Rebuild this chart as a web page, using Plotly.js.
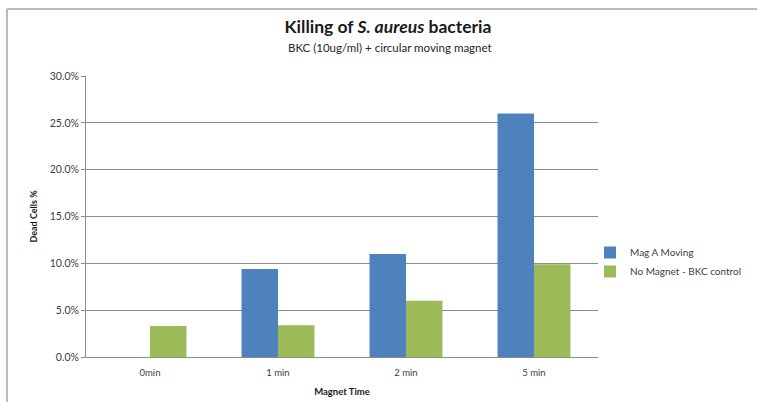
<!DOCTYPE html>
<html>
<head>
<meta charset="utf-8">
<script src="https://cdn.plot.ly/plotly-3.0.1.min.js"></script>
<style>html,body{margin:0;padding:0;background:#fff;}#chart{width:757px;height:402px;}</style>
</head>
<body>
<div id="chart"></div>
<script>
const categories = ["0min", "1 min", "2 min", "5 min"];
const magAMoving = [0, 0.094, 0.110, 0.260];
const noMagnetControl = [0.033, 0.034, 0.060, 0.099];
const seriesNames = ["Mag A Moving", "No Magnet - BKC control"];
const yTickValues = [0, 0.05, 0.10, 0.15, 0.20, 0.25, 0.30];

const FONT = "Lato, 'Open Sans', sans-serif";

const traces = [
  {type: "bar", name: seriesNames[0], x: categories, y: magAMoving,
   marker: {color: "#4F81BD"}, hoverinfo: "none"},
  {type: "bar", name: seriesNames[1], x: categories, y: noMagnetControl,
   marker: {color: "#9BBB59"}, hoverinfo: "none"}
];

const L = 86, R = 598, T = 76, B = 357;
const W = R - L, H = B - T;
const px = v => (v - L) / W;
const py = v => (B - v) / H;

const layout = {
  width: 757, height: 402,
  margin: {l: L, r: 757 - R, t: T, b: 402 - B, pad: 0, autoexpand: false},
  paper_bgcolor: "#fff", plot_bgcolor: "#fff",
  font: {family: FONT, color: "#404040"},
  barmode: "group", bargap: 0.43, bargroupgap: 0,
  showlegend: true,
  title: {text: "<b>Killing of <i>S. aureus</i> bacteria</b>", font: {size: 17.5, color: "#1a1a1a", family: FONT},
          x: 388 / 757, xanchor: "center", y: 1 - 27 / 402, yanchor: "middle", xref: "container", yref: "container"},
  annotations: [
    {text: "BKC (10ug/ml) + circular moving magnet", xref: "paper", yref: "paper",
     x: px(390), y: py(47), xanchor: "center", yanchor: "middle", showarrow: false,
     font: {size: 11.5, color: "#262626", family: FONT}}
  ],
  xaxis: {
    type: "category", showgrid: false, showline: true, linecolor: "#8c8c8c", linewidth: 1,
    ticks: "", tickfont: {size: 9.5, color: "#404040"}, ticklabelstandoff: 7,
    title: {text: "<b>Magnet Time</b>", font: {size: 9.5, color: "#1a1a1a"}, standoff: 10},
    fixedrange: true
  },
  yaxis: {
    range: [0, 0.30], tickvals: yTickValues, tickformat: ".1%",
    showgrid: true, gridcolor: "#8c8c8c", gridwidth: 1,
    showline: true, linecolor: "#8c8c8c", linewidth: 1,
    ticks: "outside", ticklen: 4, tickcolor: "#8c8c8c",
    tickfont: {size: 10.5, color: "#404040"}, zeroline: false,
    title: {text: "<b>Dead Cells %</b>", font: {size: 9, color: "#1a1a1a"}, standoff: 10},
    fixedrange: true
  },
  legend: {x: px(590), y: py(238), xanchor: "left", yanchor: "top",
           font: {size: 10, color: "#404040"}, itemwidth: 30, tracegroupgap: 6,
           bgcolor: "rgba(0,0,0,0)"},
  shapes: [
    {type: "line", xref: "paper", yref: "paper", x0: px(7), x1: px(757), y0: py(9), y1: py(9),
     line: {color: "#a6a6a6", width: 1.5}},
    {type: "line", xref: "paper", yref: "paper", x0: px(7), x1: px(7), y0: py(9), y1: py(402),
     line: {color: "#a6a6a6", width: 1.5}}
  ]
};

Plotly.newPlot("chart", traces, layout, {displayModeBar: false, staticPlot: true});
</script>
</body>
</html>
